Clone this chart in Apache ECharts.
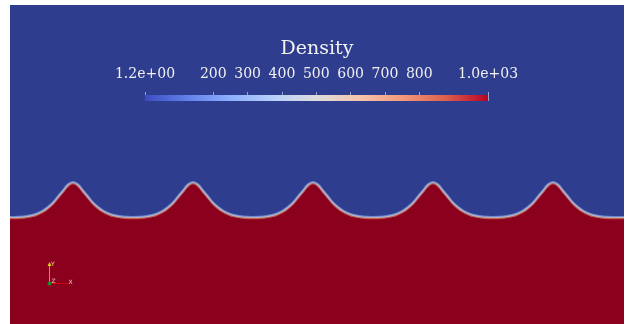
<!DOCTYPE html>
<html><head><meta charset="utf-8">
<script src="https://cdn.jsdelivr.net/npm/echarts@6/dist/echarts.min.js"></script>
<style>html,body{margin:0;padding:0;background:#fff}#c{width:625px;height:324px}</style>
</head><body><div id="c"></div>
<script>
// Interface position (x along domain, height of heavy fluid above bottom)
const interfaceX = [
  0, 3, 13, 23, 28, 33, 38, 43, 48, 53, 58, 63, 68, 73, 78, 83, 88, 93, 98, 103, 113,
  123, 133, 143, 148, 153, 158, 163, 168, 173, 178, 183, 188, 193, 198, 203, 208, 213, 218, 223, 233,
  243, 253, 263, 268, 273, 278, 283, 288, 293, 298, 303, 308, 313, 318, 323, 328, 333, 338, 343, 353,
  363, 373, 383, 388, 393, 398, 403, 408, 413, 418, 423, 428, 433, 438, 443, 448, 453, 458, 463, 473,
  483, 493, 503, 508, 513, 518, 523, 528, 533, 538, 543, 548, 553, 558, 563, 568, 573, 578, 583, 593,
  603, 614
];
const interfaceH = [
  106.5, 106.5, 107, 108.7, 110.5, 113, 116.5, 121, 127, 133, 139, 141.5, 139, 133, 127, 121, 116.5, 113, 110.5, 108.7, 107,
  106.5, 107, 108.7, 110.5, 113, 116.5, 121, 127, 133, 139, 141.5, 139, 133, 127, 121, 116.5, 113, 110.5, 108.7, 107,
  106.5, 107, 108.7, 110.5, 113, 116.5, 121, 127, 133, 139, 141.5, 139, 133, 127, 121, 116.5, 113, 110.5, 108.7, 107,
  106.5, 107, 108.7, 110.5, 113, 116.5, 121, 127, 133, 139, 141.5, 139, 133, 127, 121, 116.5, 113, 110.5, 108.7, 107,
  106.5, 107, 108.7, 110.5, 113, 116.5, 121, 127, 133, 139, 141.5, 139, 133, 127, 121, 116.5, 113, 110.5, 108.7, 107,
  106.5, 106.5
];
const domainX = [0, 614];
const domainY = [0, 319];
const densityRange = [1.2, 1000];
const densityTicks = [1.2, 200, 300, 400, 500, 600, 700, 800, 1000];
const colorbarTitle = 'Density';

const chart = echarts.init(document.getElementById('c'), null, {renderer: 'canvas'});
const pts = interfaceX.map((x, i) => [x, interfaceH[i]]);
const serif = "'DejaVu Serif', serif";
function fmt(v) {
  if (v === densityRange[0] || v === densityRange[1]) {
    return v.toExponential(1).replace(/e([+-])(\d)$/, 'e$10$2');
  }
  return String(v);
}
const cbGradient = new echarts.graphic.LinearGradient(0, 0, 1, 0, [
  {offset: 0, color: '#3b4cc0'},
  {offset: 0.125, color: '#6282ea'},
  {offset: 0.25, color: '#8db0fe'},
  {offset: 0.375, color: '#b8d0f9'},
  {offset: 0.5, color: '#dddddd'},
  {offset: 0.625, color: '#f5c4ad'},
  {offset: 0.75, color: '#f49a7b'},
  {offset: 0.875, color: '#de604d'},
  {offset: 1, color: '#b40426'}
]);
const smoothness = 0.35;
const option = {
  animation: false,
  backgroundColor: '#ffffff',
  title: {
    text: colorbarTitle, left: 317, top: 39.5, textAlign: 'center', padding: 0,
    textStyle: {fontFamily: serif, fontSize: 19, fontWeight: 'normal', color: '#f2f2f2'}
  },
  grid: [
    {left: 10, top: 5, right: 1, bottom: 0, show: true, backgroundColor: '#2f3d8f', borderWidth: 0},
    {left: 145, top: 95, width: 343, height: 6, show: false}
  ],
  xAxis: [
    {gridIndex: 0, type: 'value', min: domainX[0], max: domainX[1], show: false},
    {gridIndex: 1, type: 'value', min: densityRange[0], max: densityRange[1], position: 'top',
      axisLine: {show: false}, splitLine: {show: false},
      axisTick: {show: true, length: 9, customValues: densityTicks,
        lineStyle: {color: 'rgba(190,195,225,0.75)', width: 1}},
      axisLabel: {show: true, margin: 14, customValues: densityTicks, formatter: fmt,
        color: '#f0f0f0', fontFamily: serif, fontSize: 14}}
  ],
  yAxis: [
    {gridIndex: 0, type: 'value', min: domainY[0], max: domainY[1], show: false},
    {gridIndex: 1, type: 'value', min: 0, max: 1, show: false}
  ],
  series: [
    {type: 'line', xAxisIndex: 1, yAxisIndex: 1, data: [[densityRange[0], 1], [densityRange[1], 1]],
      symbol: 'none', lineStyle: {width: 0}, areaStyle: {color: cbGradient, opacity: 1, origin: 'start'}, silent: true},
    {type: 'line', name: 'fluid', data: pts, smooth: smoothness, symbol: 'none', z: 2,
      lineStyle: {width: 0}, areaStyle: {color: '#8b001d', opacity: 1, origin: 'start'}},
    {type: 'line', data: pts, smooth: smoothness, symbol: 'none', z: 3,
      lineStyle: {width: 3, color: '#6a86cc'}},
    {type: 'line', data: pts, smooth: smoothness, symbol: 'none', z: 4,
      lineStyle: {width: 1.2, color: '#b9b3c6', shadowColor: '#c85a44', shadowOffsetY: 1.2, shadowBlur: 0.6}}
  ],
  graphic: [
    {type: 'line', shape: {x1: 49.5, y1: 283, x2: 49.5, y2: 265}, style: {stroke: '#c89a10', lineWidth: 1}, z: 100},
    {type: 'polygon', shape: {points: [[47.5, 266], [51.5, 266], [49.5, 262]]}, style: {fill: '#e6cf10'}, z: 100},
    {type: 'line', shape: {x1: 50, y1: 283.5, x2: 68, y2: 283.5}, style: {stroke: '#d80010', lineWidth: 1}, z: 100},
    {type: 'circle', shape: {cx: 49.5, cy: 283.5, r: 2}, style: {fill: '#1f8a2a'}, z: 101},
    {type: 'text', x: 51, y: 264, style: {text: 'Y', fontSize: 6, fill: '#f0e4a0', verticalAlign: 'middle', fontFamily: 'DejaVu Sans'}, z: 100},
    {type: 'text', x: 51.5, y: 281.3, style: {text: 'Z', fontSize: 6, fill: '#f0c8cc', verticalAlign: 'middle', fontFamily: 'DejaVu Sans'}, z: 100},
    {type: 'text', x: 68.5, y: 282.5, style: {text: 'X', fontSize: 6, fill: '#f0c8cc', verticalAlign: 'middle', fontFamily: 'DejaVu Sans'}, z: 100}
  ]
};
chart.setOption(option);
</script>
</body></html>
